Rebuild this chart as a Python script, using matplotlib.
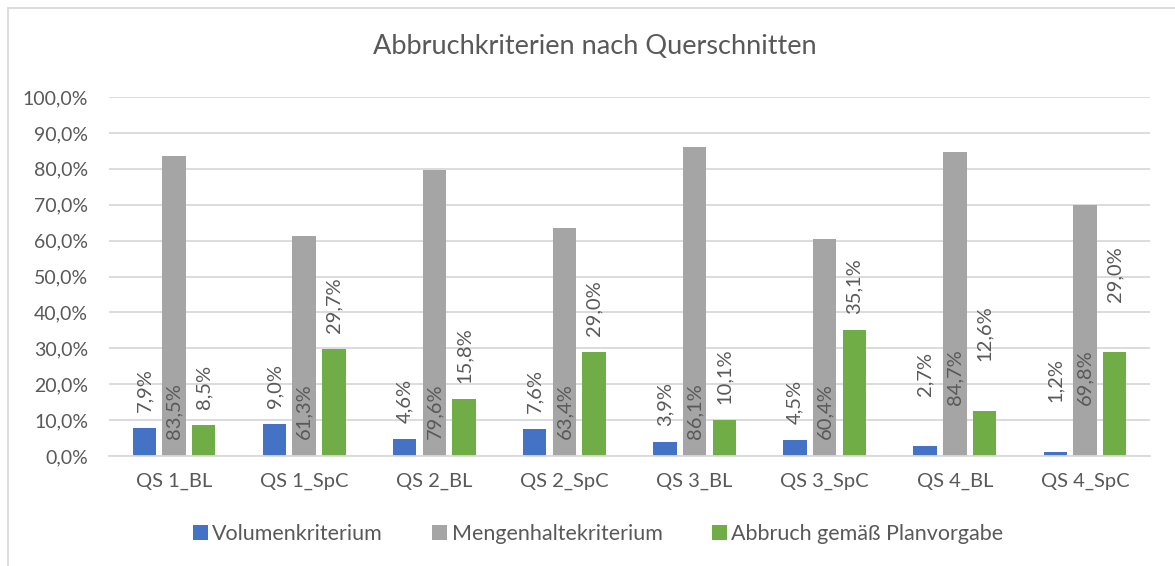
import matplotlib.pyplot as plt
from matplotlib.patches import Rectangle
from matplotlib.ticker import FuncFormatter
import numpy as np

plt.rcParams['font.family'] = ['Lato', 'DejaVu Sans']

# data
categories = ['QS 1_BL', 'QS 1_SpC', 'QS 2_BL', 'QS 2_SpC',
              'QS 3_BL', 'QS 3_SpC', 'QS 4_BL', 'QS 4_SpC']
volumen = [7.9, 9.0, 4.6, 7.6, 3.9, 4.5, 2.7, 1.2]
mengenhalt = [83.5, 61.3, 79.6, 63.4, 86.1, 60.4, 84.7, 69.8]
planvorgabe = [8.5, 29.7, 15.8, 29.0, 10.1, 35.1, 12.6, 29.0]
series_names = ['Volumenkriterium', 'Mengenhaltekriterium', 'Abbruch gemäß Planvorgabe']

# label nudges (px) - the last group had its labels moved up by hand
label_shift = [0, 0, 0, 0, 0, 0, 34, 34]

COLORS = ['#4472C4', '#A5A5A5', '#70AD47']
TXT = '#595959'
GRID = '#D9D9D9'
PX = 72 / 100.0  # px -> pt at dpi 100

fig = plt.figure(figsize=(11.75, 5.66), dpi=100)

# outer chart frame
fig.patches.append(Rectangle((8 / 1175, -0.1), 1.2, 1.1 - 8 / 566,
                             transform=fig.transFigure, fill=False,
                             edgecolor=GRID, linewidth=1.3))

ax = fig.add_axes([109 / 1175, 110 / 566, (1150 - 109) / 1175, (456 - 97) / 566])

x = np.arange(len(categories))
w = 0.18
step = 0.228
for i, (vals, c, name) in enumerate(zip([volumen, mengenhalt, planvorgabe], COLORS, series_names)):
    ax.bar(x + (i - 1) * step, vals, width=w, color=c, label=name, zorder=3)

LBL = 14.5
for j in range(len(categories)):
    # blue and green: above the bar
    for i, vals in ((0, volumen), (2, planvorgabe)):
        xx = x[j] + (i - 1) * step
        ax.annotate(f'{vals[j]:.1f}%'.replace('.', ','), xy=(xx, vals[j]),
                    xytext=(0, (16 + label_shift[j]) * PX), textcoords='offset points',
                    rotation=90, ha='center', va='bottom', fontsize=LBL, color=TXT, zorder=4)
    # gray: inside the base
    ax.annotate(f'{mengenhalt[j]:.1f}%'.replace('.', ','), xy=(x[j], 0),
                xytext=(0, (17 + label_shift[j]) * PX), textcoords='offset points',
                rotation=90, ha='center', va='bottom', fontsize=LBL, color=TXT, zorder=4)

ax.set_xlim(-0.5, len(categories) - 0.5)
ax.set_ylim(0, 100)
ax.set_yticks(np.arange(0, 101, 10))
ax.yaxis.set_major_formatter(FuncFormatter(lambda v, p: f'{v:.1f}%'.replace('.', ',')))
ax.set_xticks(x)
ax.set_xticklabels(categories)
ax.tick_params(axis='y', length=0, pad=15, labelsize=14, labelcolor=TXT)
ax.tick_params(axis='x', length=0, pad=12, labelsize=14.5, labelcolor=TXT)
ax.grid(axis='y', color=GRID, linewidth=1.3, zorder=0)
for s in ['top', 'right', 'left']:
    ax.spines[s].set_visible(False)
ax.spines['bottom'].set_color(GRID)
ax.spines['bottom'].set_linewidth(1.3)
ax.spines['bottom'].set_zorder(3.5)

fig.text(595 / 1175, 1 - 47 / 566, 'Abbruchkriterien nach Querschnitten',
         ha='center', va='center', fontsize=19.5, color=TXT)

fig.legend(loc='center', bbox_to_anchor=(598 / 1175, 1 - 534 / 566), ncol=3, frameon=False,
           fontsize=15.5, labelcolor=TXT, handlelength=0.7, handleheight=0.7,
           handletextpad=0.2, columnspacing=2.3)

plt.savefig('out.png', dpi=100)
plt.close()
